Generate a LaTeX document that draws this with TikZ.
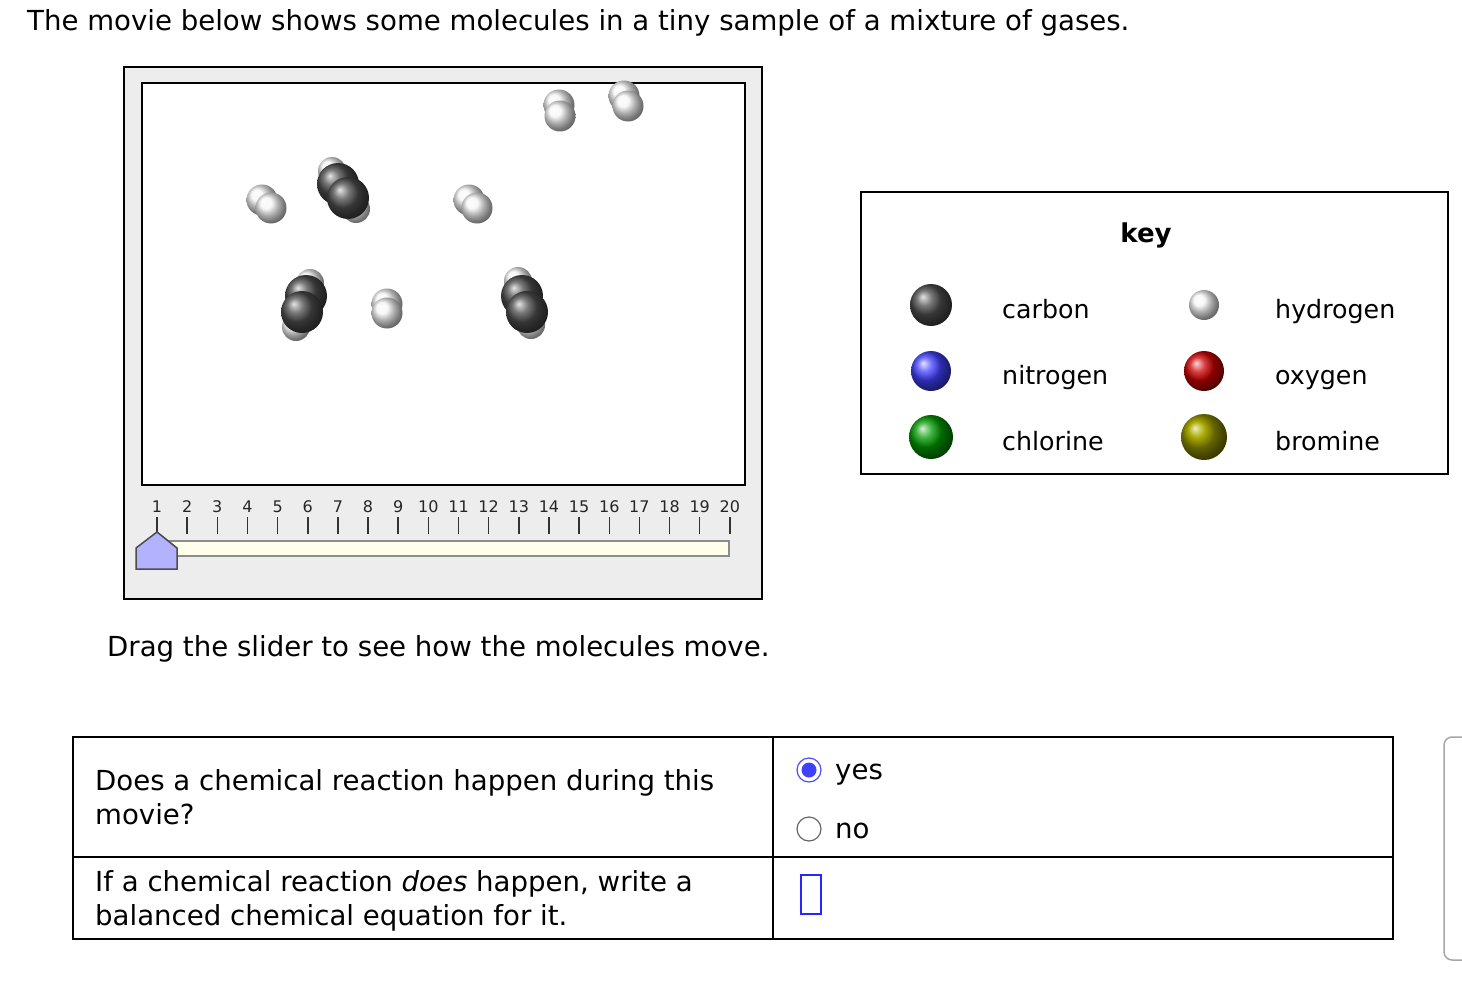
\documentclass[tikz,border=0pt]{standalone}
\usepackage{fontspec}
\setmainfont{DejaVu Sans}
\begin{document}
\begin{tikzpicture}[x=1pt,y=-1pt,
  txt/.style={anchor=base west,inner sep=0pt,font=\fontsize{27.6}{32}\selectfont},
  ktxt/.style={anchor=base west,inner sep=0pt,font=\fontsize{25.3}{30}\selectfont},
  hy/.style={shading=ball,ball color=gray!8},
  ca/.style={shading=ball,ball color=black!70},
  num/.style={inner sep=0pt,font=\fontsize{16}{18}\selectfont,text=black!85},
  tk/.style={line width=1.5pt,black!80}]
\useasboundingbox (0,0) rectangle (1462,990);
\node[txt] (title) at (27,31) {The movie below shows some molecules in a tiny sample of a mixture of gases.};
% movie frame
\draw[line width=2pt,fill=black!7] (124,67) rectangle (762,599);
\draw[line width=1.5pt,fill=white] (142,83) rectangle (745,485);
% H2 molecules
\foreach \ax/\ay/\bx/\by in {559/105/560/116, 624/96/628/106, 262/200/271/208, 469/200/477/208, 387/304/387/313}{
  \shade[hy] (\ax,\ay) circle (15.5);
  \shade[hy] (\bx,\by) circle (15.5);
}
% C2H4 molecules
\foreach \ha/\hb/\ca/\cb/\cc/\cd/\hc/\hd in {332/171/338/184/348/198/356/209, 310/283/306/296/302/312/296/327, 518/281/522/296/527/312/531/325}{
  \shade[hy] (\ha,\hb) circle (14);
  \shade[hy] (\hc,\hd) circle (14);
  \shade[ca] (\ca,\cb) circle (21);
  \shade[ca] (\cc,\cd) circle (21);
}
% slider
\foreach \i in {1,...,20}{
  \pgfmathsetmacro{\xx}{157+(\i-1)*30.15}
  \node[num] (n\i) at (\xx,507) {\i};
  \draw[tk] (\xx,517) -- (\xx,534);
}
\draw[line width=1.5pt,draw=black!45,fill=yellow!8] (170,541) rectangle (729,556);
\draw[line width=1.5pt,draw=black!70,fill=blue!30] (136,569) -- (136,548) -- (157,532) -- (177,548) -- (177,569) -- cycle;
\node[txt] (drag) at (107,656) {Drag the slider to see how the molecules move.};
% key
\draw[line width=1.5pt] (861,192) rectangle (1448,474);
\node[font=\fontsize{26}{30}\selectfont\bfseries] (key) at (1146,235) {key};
\shade[ca] (931,305) circle (21);
\shade[hy] (1204,305) circle (15);
\shade[shading=ball,ball color=blue!75] (931,371) circle (20);
\shade[shading=ball,ball color=red!80!black] (1204,371) circle (20);
\shade[shading=ball,ball color=green!60!black] (931,437) circle (22);
\shade[shading=ball,ball color=olive!90!yellow] (1204,437) circle (23);
\node[ktxt] (lc) at (1002,318) {carbon};
\node[ktxt] (lh) at (1275,318) {hydrogen};
\node[ktxt] (ln) at (1002,384) {nitrogen};
\node[ktxt] (lo) at (1275,384) {oxygen};
\node[ktxt] (lcl) at (1002,450) {chlorine};
\node[ktxt] (lb) at (1275,450) {bromine};
% table
\draw[line width=1.5pt] (73,737) rectangle (1393,939);
\draw[line width=1.5pt] (773,737) -- (773,939);
\draw[line width=1.5pt] (73,857) -- (1393,857);
\node[txt] (q1a) at (95,790) {Does a chemical reaction happen during this};
\node[txt] (q1b) at (95,824) {movie?};
\node[txt] (q2a) at (95,891) {If a chemical reaction \textit{does} happen, write a};
\node[txt] (q2b) at (95,925) {balanced chemical equation for it.};
\draw[line width=1.2pt,draw=blue!70] (809,770) circle (12);
\fill[blue!75] (809,770) circle (7.5);
\draw[line width=1.2pt,draw=black!60] (809,829) circle (12);
\node[txt] (yes) at (835,779) {yes};
\node[txt] (no) at (835,838) {no};
\draw[line width=1.8pt,draw=blue!85] (801,875) rectangle (821,914);
% partial side panel
\draw[line width=1.5pt,draw=black!35,rounded corners=8pt] (1475,737) -- (1444,737) -- (1444,960) -- (1475,960);
\end{tikzpicture}
\end{document}
